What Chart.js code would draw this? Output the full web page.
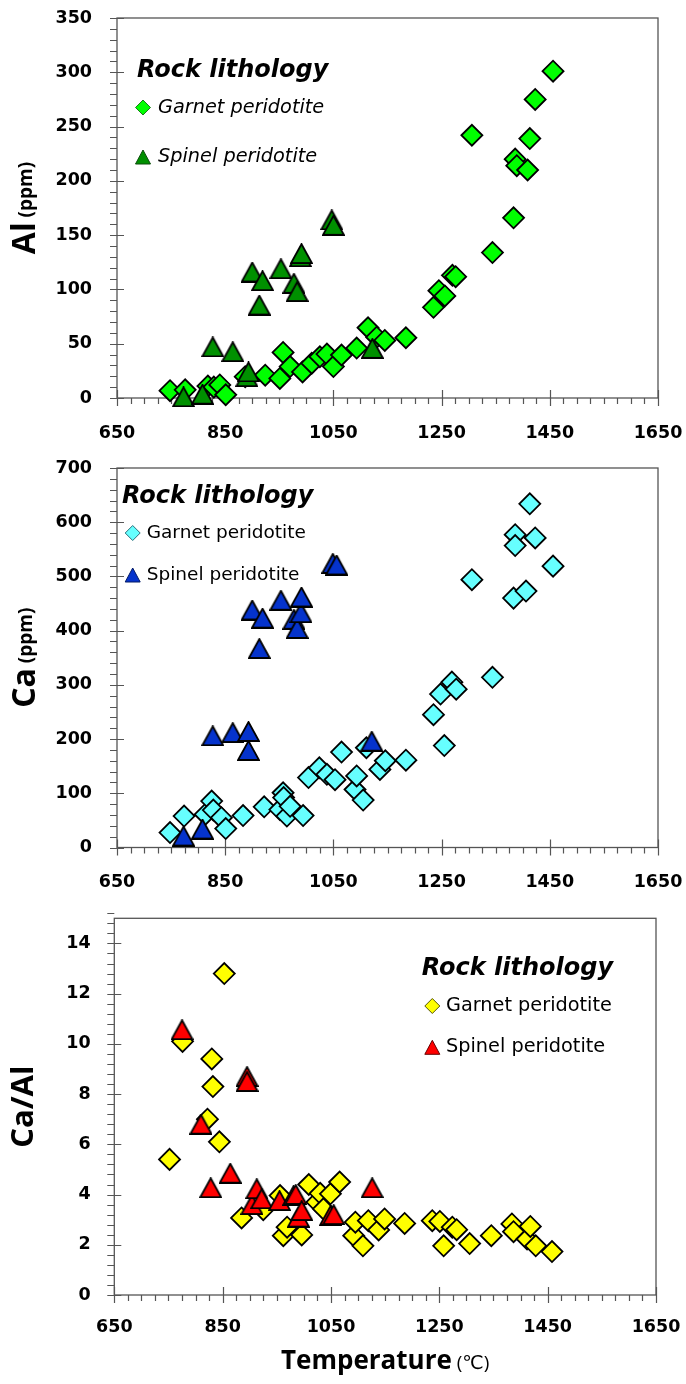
<!DOCTYPE html>
<html><head><meta charset="utf-8">
<script src="https://cdn.jsdelivr.net/npm/chart.js@4.4.1/dist/chart.umd.min.js"></script>
<style>
html,body{margin:0;padding:0;background:#fff;}
body{width:686px;height:1384px;position:relative;overflow:hidden;}
canvas{position:absolute;left:0;}
</style></head><body>
<canvas id="c1" width="686" height="450" style="top:0"></canvas>
<canvas id="c2" width="686" height="455" style="top:450px"></canvas>
<canvas id="c3" width="686" height="479" style="top:905px"></canvas>
<script>
// ---------- tick labels ----------
const xTicks = [650, 850, 1050, 1250, 1450, 1650];
const alTicks = [0, 50, 100, 150, 200, 250, 300, 350];
const caTicks = [0, 100, 200, 300, 400, 500, 600, 700];
const ratioTicks = [0, 2, 4, 6, 8, 10, 12, 14];
const legendTitle = 'Rock lithology';
const seriesNames = ['Garnet peridotite', 'Spinel peridotite'];

// ---------- Al (ppm) vs Temperature ----------
const alGarnetT  = [748, 776, 818, 829, 840, 851, 887, 924, 951, 957, 970, 993, 1010, 1025, 1038, 1050, 1065, 1093, 1114, 1130, 1145, 1184, 1235, 1245, 1256, 1270, 1276, 1306, 1344, 1383, 1386, 1389, 1409, 1413, 1423, 1456];
const alGarnetAl = [6.7, 7.5, 11, 10, 12, 3, 19.6, 21, 18, 42, 29, 24, 32, 38, 40.5, 29, 39.6, 46, 64.7, 56, 53, 55.5, 83.5, 98.8, 94, 113, 111.7, 242, 134, 166, 220, 214, 210, 239, 275, 301];
const alSpinelT  = [773, 808, 827, 864, 890, 893, 900, 913, 919, 953, 977, 983, 989, 991, 1047, 1050, 1122];
const alSpinelAl = [1, 3.5, 47, 42.6, 19.6, 24, 116, 85.6, 108, 119, 105.6, 98, 130, 133, 164, 159, 45.7];

// ---------- Ca (ppm) vs Temperature ----------
const caGarnetT  = [748, 774, 813, 825, 828, 843, 851, 883, 922, 951, 957, 958, 964, 970, 994, 1004, 1024, 1038, 1053, 1065, 1090, 1093, 1105, 1111, 1136, 1146, 1184, 1235, 1248, 1255, 1269, 1277, 1306, 1344, 1383, 1386, 1386, 1406, 1413, 1423, 1456];
const caGarnetCa = [27.6, 58, 61, 85.6, 69, 55, 35, 59, 75, 70, 101, 92, 58, 76, 59, 129, 147, 135, 125, 176, 107, 132, 87.5, 184, 144, 160, 161, 245, 283, 188, 305, 292, 494, 314, 460, 577, 557, 473, 634, 571, 519];
const caSpinelT  = [773, 808, 827, 864, 893, 893, 900, 913, 919, 953, 977, 983, 990, 991, 1049, 1056, 1121];
const caSpinelCa = [21, 34, 206, 212, 214, 179, 438, 367, 423, 456, 421, 404, 433, 462, 524, 521, 196];

// ---------- Ca/Al vs Temperature ----------
const ratioGarnetT = [752, 776, 822, 830, 832, 844, 853, 885, 925, 956, 962, 969, 996, 1009, 1024, 1030, 1036, 1049, 1066, 1092, 1095, 1109, 1119, 1138, 1149, 1186, 1237, 1251, 1258, 1274, 1282, 1306, 1346, 1384, 1387, 1412, 1418, 1428, 1458];
const ratioGarnet  = [5.4, 10.1, 7.0, 9.4, 8.3, 6.1, 12.8, 3.07, 3.4, 3.96, 2.36, 2.7, 2.39, 4.4, 3.7, 4.05, 3.43, 4.03, 4.5, 2.36, 2.9, 1.96, 2.96, 2.59, 3.03, 2.85, 2.96, 2.93, 1.96, 2.7, 2.6, 2.05, 2.36, 2.83, 2.52, 2.23, 2.73, 1.96, 1.73];
const ratioSpinelT = [775, 810, 828, 864, 895, 895, 904, 913, 922, 955, 981, 985, 990, 996, 1049, 1055, 1126];
const ratioSpinel  = [10.56, 6.8, 4.27, 4.85, 8.7, 8.5, 3.6, 4.23, 3.83, 3.76, 3.96, 4.0, 3.1, 3.36, 3.16, 3.2, 4.27];

// ---------- helpers ----------
const FONT = '"Open Sans", "DejaVu Sans", sans-serif';
const WIDE = '"DejaVu Sans", sans-serif';
function pts(xs, ys) { return xs.map((x, i) => ({ x: x, y: ys[i] })); }

function triangleImage(fill, w, h) {
  const c = document.createElement('canvas');
  c.width = w + 2; c.height = h + 2;
  const g = c.getContext('2d');
  g.beginPath();
  g.moveTo(1 + w / 2, 1);
  g.lineTo(1 + w, 1 + h);
  g.lineTo(1, 1 + h);
  g.closePath();
  g.fillStyle = fill; g.fill();
  g.lineWidth = 1.8; g.strokeStyle = '#000'; g.lineJoin = 'miter'; g.stroke();
  return c;
}

function drawLegendMarker(ctx, kind, fill, stroke, x, y) {
  ctx.save();
  ctx.beginPath();
  if (kind === 'diamond') {
    const r = 7.5;
    ctx.moveTo(x - r, y); ctx.lineTo(x, y - r); ctx.lineTo(x + r, y); ctx.lineTo(x, y + r);
  } else {
    const w = 15, h = 14;
    ctx.moveTo(x, y - h / 2); ctx.lineTo(x + w / 2, y + h / 2); ctx.lineTo(x - w / 2, y + h / 2);
  }
  ctx.closePath();
  ctx.fillStyle = fill; ctx.fill();
  ctx.lineWidth = 1; ctx.strokeStyle = stroke; ctx.stroke();
  ctx.restore();
}

const framePlugin = {
  id: 'frame',
  beforeDatasetsDraw(chart, args, o) {
    const { ctx, chartArea: a, scales: { x, y } } = chart;
    ctx.save();
    ctx.strokeStyle = '#555';
    ctx.lineWidth = 1.3;
    ctx.strokeRect(a.left, a.top, a.right - a.left, a.bottom - a.top);
    ctx.lineWidth = 1.2;
    ctx.beginPath();
    const nx = Math.round((x.max - x.min) / o.xMinor);
    for (let k = 0; k <= nx; k++) {
      const v = x.min + k * o.xMinor;
      const px = Math.round(x.getPixelForValue(v)) + 0.5;
      const major = xTicks.includes(v);
      ctx.moveTo(px, a.bottom - (major ? 8 : 0));
      ctx.lineTo(px, a.bottom + (major ? 8 : 6));
    }
    const ny = Math.round((y.max - y.min) / o.yMinor);
    for (let k = 0; k <= ny; k++) {
      const v = +(y.min + k * o.yMinor).toFixed(4);
      const py = Math.round(y.getPixelForValue(v)) + 0.5;
      const major = o.yTicks.includes(v);
      ctx.moveTo(a.left - 7, py);
      ctx.lineTo(a.left + (major ? 7 : 0), py);
    }
    ctx.stroke();
    ctx.restore();
  },
  afterDraw(chart, args, o) {
    const { ctx, chartArea: a } = chart;
    ctx.save();
    ctx.fillStyle = '#000';
    ctx.textBaseline = 'middle';
    ctx.translate(o.yTitleX, (a.top + a.bottom) / 2);
    ctx.rotate(-Math.PI / 2);
    let total = 0;
    o.yTitle.forEach(p => { ctx.font = p.font; total += ctx.measureText(p.text).width; });
    let cx = -total / 2;
    ctx.textAlign = 'left';
    o.yTitle.forEach(p => {
      ctx.font = p.font;
      ctx.fillText(p.text, cx, p.dy || 0);
      cx += ctx.measureText(p.text).width;
    });
    ctx.restore();

    if (o.xTitle) {
      ctx.save();
      ctx.fillStyle = '#000';
      ctx.textBaseline = 'middle';
      ctx.textAlign = 'left';
      let tw = 0;
      o.xTitle.forEach(p => { ctx.font = p.font; tw += ctx.measureText(p.text).width; });
      let tx = (a.left + a.right) / 2 - tw / 2;
      o.xTitle.forEach(p => {
        ctx.font = p.font;
        ctx.fillText(p.text, tx, o.xTitleY + (p.dy || 0));
        tx += ctx.measureText(p.text).width;
      });
      ctx.restore();
    }

    const L = o.legend;
    ctx.save();
    ctx.fillStyle = '#000';
    ctx.textBaseline = 'middle';
    ctx.textAlign = 'left';
    ctx.font = L.titleFont;
    ctx.fillText(legendTitle, L.titleX, L.titleY);
    chart.data.datasets.forEach((ds, i) => {
      const yy = L.rows[i];
      drawLegendMarker(ctx, ds.markerKind, ds.backgroundColor, ds.legendStroke, L.markerX, yy);
      ctx.fillStyle = '#000';
      ctx.font = L.itemFont;
      ctx.fillText(ds.label, L.textX, yy);
    });
    ctx.restore();
  }
};

function zeroPad(s) { s.paddingTop = 0; s.paddingBottom = 0; s.paddingLeft = 0; s.paddingRight = 0; }

function makeChart(id, cfg) {
  const tickFont = { family: WIDE, size: 17.5, weight: 'bold', lineHeight: 1.2 };
  return new Chart(document.getElementById(id), {
    type: 'scatter',
    data: {
      datasets: [
        {
          label: seriesNames[0], data: cfg.garnet, order: 1, clip: false,
          markerKind: 'diamond', legendStroke: cfg.garnetLegendStroke,
          pointStyle: 'rectRot', pointRadius: 10.5, pointHoverRadius: 10.5,
          backgroundColor: cfg.garnetColor, borderColor: '#000', borderWidth: 1.8
        },
        {
          label: seriesNames[1], data: cfg.spinel, order: 0, clip: false,
          markerKind: 'triangle', legendStroke: cfg.spinelLegendStroke,
          pointStyle: triangleImage(cfg.spinelColor, 21, 19), pointRadius: 11,
          backgroundColor: cfg.spinelColor, borderColor: '#000', borderWidth: 1.8
        }
      ]
    },
    options: {
      responsive: false,
      animation: false,
      events: [],
      layout: { padding: { left: 0, top: cfg.top, right: cfg.right, bottom: 0 } },
      plugins: {
        legend: { display: false },
        tooltip: { enabled: false },
        frame: cfg.frame
      },
      scales: {
        x: {
          type: 'linear', min: 650, max: 1650,
          afterBuildTicks: s => { s.ticks = xTicks.map(v => ({ value: v })); },
          afterFit: s => { s.height = cfg.xHeight; zeroPad(s); },
          grid: { display: false, drawTicks: false },
          border: { display: false },
          ticks: { font: tickFont, color: '#000', padding: cfg.xPad, maxRotation: 0, autoSkip: false,
                   callback: v => String(v) }
        },
        y: {
          type: 'linear', min: cfg.yMin, max: cfg.yMax,
          afterBuildTicks: s => { s.ticks = cfg.yTicks.map(v => ({ value: v })); },
          afterFit: s => { s.width = cfg.yWidth; zeroPad(s); },
          grid: { display: false, drawTicks: false },
          border: { display: false },
          ticks: { font: tickFont, color: '#000', padding: cfg.yPad, autoSkip: false,
                   callback: v => String(v) }
        }
      }
    },
    plugins: [framePlugin]
  });
}

makeChart('c1', {
  garnet: pts(alGarnetT, alGarnetAl), spinel: pts(alSpinelT, alSpinelAl),
  garnetColor: '#00ff00', spinelColor: '#009000',
  garnetLegendStroke: '#1a7a1a', spinelLegendStroke: '#0b4d0b',
  yMin: 0, yMax: 350, yTicks: alTicks,
  top: 18, right: 28, xHeight: 52, yWidth: 117, xPad: 24.5, yPad: 25,
  frame: {
    xMinor: 25, yMinor: 10, yTicks: alTicks, yTitleX: 26,
    yTitle: [{ text: 'Al', font: 'bold 32px ' + FONT }, { text: ' (ppm)', font: 'bold 19px ' + FONT, dy: 1 }],
    legend: { titleX: 137, titleY: 71, titleFont: 'italic bold 24px ' + WIDE,
              markerX: 143, textX: 158, rows: [107.5, 157], itemFont: 'italic 19.3px ' + WIDE }
  }
});

makeChart('c2', {
  garnet: pts(caGarnetT, caGarnetCa), spinel: pts(caSpinelT, caSpinelCa),
  garnetColor: '#66ffff', spinelColor: '#0533cc',
  garnetLegendStroke: '#2a6f7a', spinelLegendStroke: '#031a66',
  yMin: 0, yMax: 700, yTicks: caTicks,
  top: 18, right: 28, xHeight: 57.5, yWidth: 117, xPad: 24.5, yPad: 25,
  frame: {
    xMinor: 25, yMinor: 20, yTicks: caTicks, yTitleX: 26,
    yTitle: [{ text: 'Ca', font: 'bold 32px ' + FONT }, { text: ' (ppm)', font: 'bold 19px ' + FONT, dy: 1 }],
    legend: { titleX: 122, titleY: 47, titleFont: 'italic bold 24px ' + WIDE,
              markerX: 132.7, textX: 146.7, rows: [83, 125], itemFont: '18.5px ' + WIDE }
  }
});

makeChart('c3', {
  garnet: pts(ratioGarnetT, ratioGarnet), spinel: pts(ratioSpinelT, ratioSpinel),
  garnetColor: '#ffff00', spinelColor: '#ff0000',
  garnetLegendStroke: '#555500', spinelLegendStroke: '#660000',
  yMin: 0, yMax: 15, yTicks: ratioTicks,
  top: 13.3, right: 30, xHeight: 89, yWidth: 114.3, xPad: 21.5, yPad: 23.6,
  frame: {
    xMinor: 25, yMinor: 0.4, yTicks: ratioTicks, yTitleX: 24,
    yTitle: [{ text: 'Ca/Al', font: 'bold 31px ' + FONT }],
    xTitle: [{ text: 'Temperature', font: 'bold 26px ' + FONT }, { text: ' (\u2103)', font: '19px ' + FONT, dy: 2 }],
    xTitleY: 457,
    legend: { titleX: 421.7, titleY: 64, titleFont: 'italic bold 24px ' + WIDE,
              markerX: 432.3, textX: 446, rows: [101, 142.3], itemFont: '19.3px ' + WIDE }
  }
});
</script>
</body></html>
